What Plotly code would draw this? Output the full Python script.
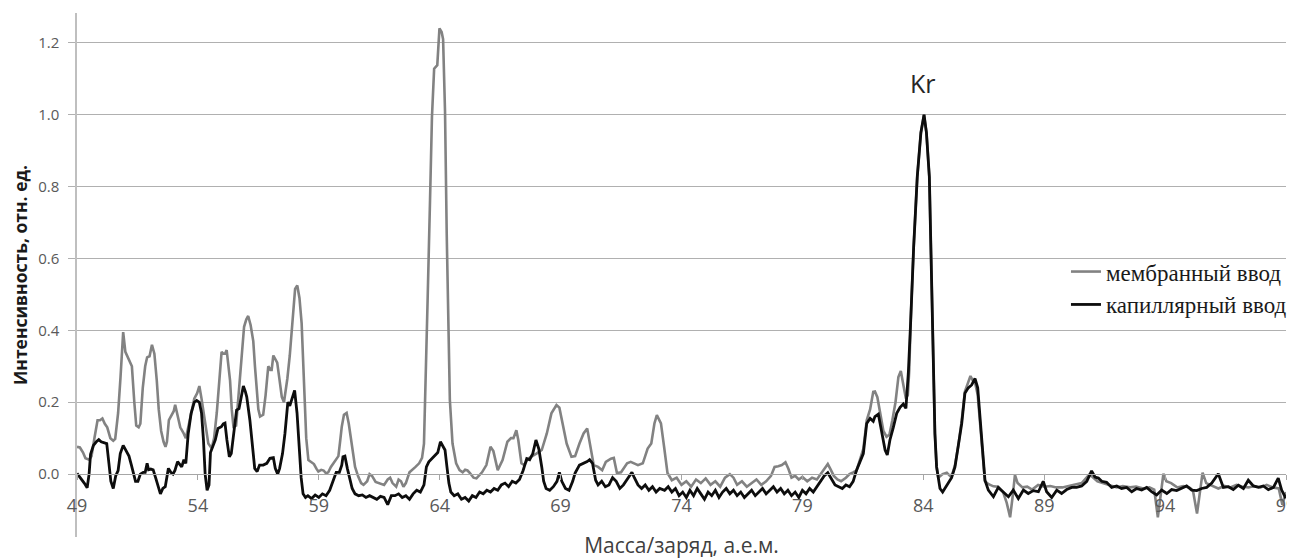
import plotly.graph_objects as go

# ---- data ----
mz_membrane = [
    49.0, 49.12, 49.25, 49.35, 49.5, 49.6, 49.72, 49.85, 49.95, 50.05, 50.15, 50.25, 50.38, 50.5, 50.58,
    50.7, 50.8, 50.91, 51.0, 51.1, 51.2, 51.27, 51.37, 51.45, 51.55, 51.62, 51.72, 51.82, 51.9, 52.0,
    52.1, 52.2, 52.3, 52.38, 52.48, 52.58, 52.66, 52.72, 52.8, 52.9, 53.0, 53.06, 53.15, 53.27, 53.4,
    53.5, 53.6, 53.72, 53.85, 53.97, 54.06, 54.15, 54.23, 54.33, 54.43, 54.57, 54.67, 54.78, 54.88, 54.98,
    55.05, 55.12, 55.19, 55.26, 55.33, 55.4, 55.47, 55.58, 55.66, 55.74, 55.82, 55.91, 56.0, 56.08, 56.18,
    56.29, 56.36, 56.43, 56.5, 56.57, 56.7, 56.8, 56.91, 57.0, 57.05, 57.12, 57.2, 57.28, 57.38, 57.47,
    57.56, 57.63, 57.7, 57.8, 57.88, 57.96, 58.02, 58.11, 58.2, 58.29, 58.35, 58.4, 58.48, 58.57, 58.7,
    58.8, 58.9, 58.98, 59.1, 59.2, 59.3, 59.39, 59.5, 59.6, 59.7, 59.81, 59.88, 59.95, 60.04, 60.15,
    60.24, 60.32, 60.42, 60.5, 60.63, 60.75, 60.85, 61.0, 61.1, 61.2, 61.35, 61.5, 61.7, 61.85, 61.95,
    62.05, 62.2, 62.3, 62.4, 62.5, 62.6, 62.75, 62.85, 63.0, 63.15, 63.27, 63.35, 63.42, 63.5, 63.6,
    63.68, 63.77, 63.9, 63.99, 64.08, 64.14, 64.22, 64.29, 64.35, 64.42, 64.53, 64.68, 64.82, 64.95, 65.05,
    65.15, 65.25, 65.4, 65.52, 65.62, 65.75, 65.93, 66.1, 66.22, 66.4, 66.6, 66.8, 66.95, 67.05, 67.17,
    67.25, 67.38, 67.5, 67.65, 67.8, 68.0, 68.22, 68.43, 68.62, 68.83, 68.95, 69.1, 69.25, 69.45, 69.6,
    69.78, 69.95, 70.1, 70.22, 70.37, 70.55, 70.72, 70.87, 71.08, 71.2, 71.33, 71.5, 71.75, 71.9, 72.05,
    72.2, 72.4, 72.6, 72.75, 72.88, 72.98, 73.1, 73.15, 73.28, 73.42, 73.6, 73.8, 74.0, 74.2, 74.4,
    74.6, 74.8, 75.0, 75.2, 75.4, 75.6, 75.8, 76.0, 76.15, 76.3, 76.5, 76.7, 76.9, 77.1, 77.3,
    77.5, 77.7, 77.85, 78.0, 78.15, 78.3, 78.42, 78.55, 78.7, 78.85, 79.0, 79.2, 79.4, 79.6, 79.8,
    79.95, 80.05, 80.15, 80.3, 80.45, 80.6, 80.8, 80.95, 81.1, 81.24, 81.38, 81.52, 81.66, 81.8, 81.93,
    82.0, 82.1, 82.2, 82.35, 82.48, 82.6, 82.72, 82.85, 82.97, 83.07, 83.17, 83.28, 83.36, 83.42, 83.48,
    83.6, 83.75, 83.9, 84.03, 84.13, 84.25, 84.35, 84.41, 84.48, 84.55, 84.62, 84.8, 84.97, 85.1, 85.2,
    85.31, 85.45, 85.59, 85.72, 85.86, 85.95, 86.05, 86.14, 86.25, 86.34, 86.46, 86.55, 86.7, 86.9, 87.1,
    87.3, 87.45, 87.59, 87.7, 87.79, 87.9, 88.1, 88.3, 88.5, 88.75, 89.0, 89.25, 89.5, 89.75, 90.0,
    90.3, 90.55, 90.85, 91.0, 91.2, 91.45, 91.7, 92.0, 92.25, 92.55, 92.8, 93.1, 93.35, 93.55, 93.7,
    93.8, 93.93, 94.05, 94.25, 94.5, 94.75, 95.0, 95.15, 95.32, 95.45, 95.55, 95.7, 95.95, 96.2, 96.45,
    96.7, 96.95, 97.2, 97.45, 97.7, 97.95, 98.2, 98.45, 98.7, 98.85, 99.0,
]
int_membrane = [
    0.076, 0.074, 0.06, 0.044, 0.040, 0.05, 0.10, 0.15, 0.15, 0.155, 0.14, 0.13, 0.10, 0.093, 0.098,
    0.17, 0.27, 0.395, 0.34, 0.325, 0.315, 0.30, 0.20, 0.135, 0.13, 0.14, 0.24, 0.30, 0.325, 0.328,
    0.36, 0.335, 0.26, 0.18, 0.12, 0.09, 0.076, 0.09, 0.15, 0.165, 0.175, 0.193, 0.165, 0.13, 0.115,
    0.10, 0.13, 0.17, 0.21, 0.225, 0.245, 0.21, 0.17, 0.12, 0.085, 0.072, 0.10, 0.17, 0.26, 0.34,
    0.335, 0.335, 0.345, 0.30, 0.26, 0.18, 0.132, 0.135, 0.20, 0.28, 0.35, 0.41, 0.43, 0.44, 0.415,
    0.37, 0.30, 0.224, 0.18, 0.16, 0.165, 0.22, 0.30, 0.29, 0.29, 0.33, 0.32, 0.31, 0.26, 0.215,
    0.20, 0.23, 0.266, 0.33, 0.40, 0.46, 0.515, 0.525, 0.49, 0.42, 0.30, 0.206, 0.10, 0.039, 0.033,
    0.028, 0.015, 0.007, 0.012, 0.01, 0.002, 0.005, 0.02, 0.03, 0.04, 0.05, 0.09, 0.132, 0.165, 0.17,
    0.14, 0.104, 0.06, 0.02, -0.007, -0.025, -0.03, -0.02, 0.0, -0.005, -0.022, -0.025, -0.03, -0.015, -0.01,
    -0.025, -0.035, -0.015, -0.02, -0.035, -0.025, 0.005, 0.012, 0.02, 0.03, 0.045, 0.085, 0.25, 0.484, 0.762,
    0.994, 1.128, 1.138, 1.24, 1.23, 1.21, 1.01, 0.67, 0.39, 0.206, 0.085, 0.03, 0.011, 0.005, 0.012,
    0.01, 0.003, -0.01, -0.012, -0.005, 0.005, 0.025, 0.076, 0.064, 0.011, 0.039, 0.09, 0.10, 0.10, 0.122,
    0.095, 0.03, 0.025, 0.043, 0.048, 0.057, 0.067, 0.113, 0.169, 0.192, 0.185, 0.132, 0.085, 0.048, 0.05,
    0.085, 0.113, 0.127, 0.076, 0.025, 0.02, 0.011, 0.034, 0.043, 0.045, 0.003, 0.005, 0.03, 0.034, 0.03,
    0.025, 0.03, 0.071, 0.085, 0.141, 0.164, 0.15, 0.141, 0.076, 0.003, -0.017, -0.01, -0.03, -0.02, -0.035,
    -0.015, -0.025, -0.012, -0.03, -0.02, -0.035, -0.01, 0.0, -0.01, -0.03, -0.02, -0.035, -0.025, -0.015, -0.03,
    -0.02, -0.005, 0.02, 0.022, 0.025, 0.033, 0.015, -0.01, -0.005, -0.015, -0.008, -0.02, -0.01, -0.015, 0.005,
    0.02, 0.028, 0.015, -0.005, -0.015, -0.02, -0.01, 0.0, 0.005, 0.01, 0.04, 0.07, 0.15, 0.18, 0.229,
    0.23, 0.214, 0.18, 0.12, 0.104, 0.11, 0.15, 0.2, 0.27, 0.287, 0.25, 0.21, 0.22, 0.29, 0.43,
    0.63, 0.827, 0.95, 1.0, 0.95, 0.827, 0.484, 0.317, 0.113, 0.02, -0.01, 0.0, 0.004, -0.005, 0.0,
    0.025, 0.08, 0.15, 0.23, 0.256, 0.273, 0.26, 0.255, 0.22, 0.14, 0.05, -0.02, -0.028, -0.034, -0.035,
    -0.05, -0.08, -0.12, -0.06, -0.002, -0.025, -0.037, -0.035, -0.043, -0.03, -0.035, -0.033, -0.037, -0.037, -0.033,
    -0.03, -0.025, -0.002, -0.008, -0.02, -0.025, -0.03, -0.037, -0.033, -0.037, -0.035, -0.04, -0.037, -0.043, -0.12,
    -0.06, 0.001, -0.02, -0.025, -0.037, -0.033, -0.037, -0.045, -0.11, -0.05, 0.004, -0.025, -0.033, -0.04, -0.033,
    -0.037, -0.03, -0.035, -0.037, -0.033, -0.037, -0.03, -0.037, -0.04, -0.085, -0.05,
]

mz_capillary = [
    49.0, 49.15, 49.3, 49.42, 49.5, 49.56, 49.68, 49.8, 49.9, 50.0, 50.1, 50.23, 50.32, 50.4, 50.5,
    50.6, 50.7, 50.79, 50.91, 51.03, 51.15, 51.25, 51.33, 51.42, 51.52, 51.62, 51.74, 51.82, 51.9, 51.96,
    52.05, 52.15, 52.25, 52.35, 52.45, 52.55, 52.65, 52.78, 52.88, 52.97, 53.05, 53.16, 53.25, 53.33, 53.42,
    53.5, 53.6, 53.72, 53.85, 53.95, 54.06, 54.15, 54.23, 54.3, 54.38, 54.46, 54.52, 54.62, 54.72, 54.83,
    54.97, 55.05, 55.12, 55.2, 55.3, 55.38, 55.52, 55.6, 55.7, 55.8, 55.88, 55.96, 56.02, 56.15, 56.25,
    56.35, 56.45, 56.55, 56.7, 56.85, 56.98, 57.12, 57.2, 57.3, 57.38, 57.5, 57.6, 57.72, 57.8, 57.92,
    58.0, 58.1, 58.2, 58.27, 58.35, 58.45, 58.55, 58.7, 58.85, 59.0, 59.15, 59.3, 59.45, 59.6, 59.72,
    59.85, 59.95, 60.0, 60.08, 60.18, 60.28, 60.38, 60.5, 60.65, 60.8, 60.95, 61.1, 61.25, 61.4, 61.55,
    61.7, 61.85, 62.0, 62.15, 62.3, 62.45, 62.6, 62.75, 62.9, 63.05, 63.2, 63.35, 63.45, 63.55, 63.68,
    63.8, 63.92, 64.03, 64.14, 64.22, 64.3, 64.38, 64.46, 64.6, 64.75, 64.9, 65.05, 65.2, 65.35, 65.5,
    65.65, 65.8, 65.95, 66.1, 66.25, 66.4, 66.55, 66.7, 66.85, 67.0, 67.15, 67.3, 67.45, 67.6, 67.72,
    67.85, 67.98, 68.1, 68.22, 68.3, 68.4, 68.55, 68.7, 68.85, 68.95, 69.05, 69.2, 69.35, 69.5, 69.6,
    69.78, 69.98, 70.1, 70.2, 70.32, 70.45, 70.55, 70.7, 70.85, 71.0, 71.15, 71.3, 71.45, 71.6, 71.78,
    71.95, 72.05, 72.2, 72.35, 72.5, 72.65, 72.8, 72.95, 73.1, 73.3, 73.45, 73.6, 73.75, 73.9, 74.05,
    74.2, 74.35, 74.5, 74.65, 74.8, 74.95, 75.1, 75.25, 75.4, 75.55, 75.7, 75.85, 76.0, 76.15, 76.3,
    76.45, 76.6, 76.75, 76.9, 77.05, 77.2, 77.35, 77.5, 77.65, 77.8, 77.95, 78.1, 78.25, 78.4, 78.55,
    78.7, 78.85, 79.0, 79.15, 79.3, 79.45, 79.6, 79.75, 79.9, 80.05, 80.2, 80.35, 80.5, 80.65, 80.8,
    80.95, 81.1, 81.24, 81.38, 81.52, 81.66, 81.8, 81.93, 82.0, 82.14, 82.28, 82.42, 82.51, 82.62, 82.76,
    82.9, 83.04, 83.17, 83.28, 83.38, 83.48, 83.6, 83.75, 83.9, 84.03, 84.13, 84.25, 84.35, 84.41, 84.48,
    84.55, 84.62, 84.69, 84.8, 84.97, 85.17, 85.31, 85.45, 85.59, 85.72, 85.86, 86.0, 86.14, 86.25, 86.34,
    86.46, 86.55, 86.69, 86.9, 87.1, 87.31, 87.52, 87.72, 87.93, 88.14, 88.34, 88.55, 88.76, 88.96, 89.1,
    89.31, 89.52, 89.72, 89.93, 90.14, 90.34, 90.55, 90.76, 90.96, 91.1, 91.24, 91.38, 91.58, 91.79, 92.0,
    92.2, 92.41, 92.62, 92.82, 93.03, 93.24, 93.44, 93.65, 93.86, 94.07, 94.27, 94.48, 94.69, 94.89, 95.1,
    95.31, 95.51, 95.72, 95.93, 96.2, 96.41, 96.62, 96.82, 97.03, 97.24, 97.44, 97.65, 97.86, 98.06, 98.27,
    98.48, 98.68, 98.82, 98.96, 99.0,
]
int_capillary = [
    0.002, -0.01, -0.025, -0.038, 0.0, 0.055, 0.08, 0.09, 0.096, 0.09, 0.087, 0.085, 0.03, -0.02, -0.04,
    -0.005, 0.01, 0.057, 0.08, 0.065, 0.05, 0.025, 0.0, -0.02, -0.02, 0.0, 0.005, 0.005, 0.03, 0.012,
    0.014, 0.012, -0.01, -0.035, -0.055, -0.04, -0.035, 0.016, 0.005, 0.0, 0.01, 0.035, 0.025, 0.02, 0.04,
    0.03, 0.113, 0.169, 0.2, 0.205, 0.2, 0.17, 0.095, 0.0, -0.045, -0.03, 0.06, 0.076, 0.095, 0.127,
    0.132, 0.14, 0.142, 0.095, 0.048, 0.057, 0.132, 0.178, 0.182, 0.22, 0.245, 0.23, 0.215, 0.15, 0.076,
    0.016, 0.007, 0.025, 0.025, 0.03, 0.044, 0.046, 0.016, 0.0, 0.016, 0.057, 0.113, 0.2, 0.19, 0.22,
    0.233, 0.17, 0.057, -0.01, -0.055, -0.065, -0.06, -0.068, -0.058, -0.065, -0.055, -0.06, -0.045, -0.02, 0.005,
    0.005, 0.025, 0.048, 0.05, 0.016, -0.01, -0.04, -0.055, -0.06, -0.058, -0.065, -0.06, -0.065, -0.07, -0.062,
    -0.065, -0.085, -0.06, -0.06, -0.055, -0.065, -0.06, -0.07, -0.055, -0.045, -0.05, -0.03, 0.02, 0.034, 0.043,
    0.05, 0.06, 0.09, 0.075, 0.067, 0.02, -0.025, -0.05, -0.06, -0.055, -0.07, -0.065, -0.075, -0.06, -0.065,
    -0.05, -0.055, -0.045, -0.05, -0.04, -0.045, -0.03, -0.025, -0.035, -0.02, -0.025, -0.015, 0.01, 0.043, 0.04,
    0.057, 0.095, 0.07, 0.02, -0.02, -0.04, -0.045, -0.035, -0.02, 0.005, -0.02, -0.04, -0.045, -0.02, 0.003,
    0.025, 0.03, 0.035, 0.04, 0.03, -0.017, -0.03, -0.02, -0.035, -0.03, -0.01, -0.02, -0.04, -0.03, -0.01,
    0.005, -0.01, -0.03, -0.04, -0.03, -0.045, -0.035, -0.05, -0.04, -0.045, -0.035, -0.05, -0.04, -0.06, -0.05,
    -0.065, -0.045, -0.06, -0.04, -0.055, -0.07, -0.05, -0.06, -0.045, -0.065, -0.05, -0.04, -0.055, -0.045, -0.06,
    -0.05, -0.065, -0.055, -0.045, -0.06, -0.05, -0.04, -0.055, -0.045, -0.035, -0.05, -0.04, -0.055, -0.045, -0.06,
    -0.05, -0.065, -0.045, -0.055, -0.04, -0.05, -0.035, -0.02, -0.005, 0.004, -0.015, -0.03, -0.035, -0.04, -0.03,
    -0.035, -0.02, 0.011, 0.034, 0.057, 0.141, 0.155, 0.147, 0.16, 0.167, 0.113, 0.067, 0.053, 0.095, 0.13,
    0.169, 0.186, 0.195, 0.183, 0.28, 0.428, 0.63, 0.827, 0.95, 1.0, 0.95, 0.827, 0.484, 0.317, 0.113,
    0.02, -0.017, -0.04, -0.05, -0.03, -0.01, 0.02, 0.076, 0.141, 0.225, 0.24, 0.248, 0.266, 0.24, 0.16,
    0.067, -0.017, -0.0445, -0.063, -0.037, -0.049, -0.063, -0.0445, -0.068, -0.0445, -0.054, -0.046, -0.049, -0.020, -0.049,
    -0.065, -0.0445, -0.054, -0.043, -0.037, -0.037, -0.033, -0.020, 0.009, -0.008, -0.011, -0.020, -0.023, -0.037, -0.033,
    -0.040, -0.037, -0.049, -0.040, -0.0445, -0.037, -0.049, -0.058, -0.0445, -0.054, -0.043, -0.046, -0.040, -0.033, -0.0445,
    -0.046, -0.040, -0.037, -0.025, 0.001, -0.037, -0.035, -0.043, -0.031, -0.040, -0.017, -0.033, -0.037, -0.033, -0.043,
    -0.037, -0.011, -0.0445, -0.063, -0.06,
]

x_ticks = [49, 54, 59, 64, 69, 74, 79, 84, 89, 94, 99]
y_ticks = [0.0, 0.2, 0.4, 0.6, 0.8, 1.0, 1.2]
series_names = ["мембранный ввод", "капиллярный ввод"]
x_title = "Масса/заряд, а.е.м."
y_title = "Интенсивность, отн. ед."
peak_label = "Kr"
peak_pos = (84.0, 1.088)

Y_MIN, Y_MAX = -0.175, 1.283

fig = go.Figure()
fig.add_trace(go.Scatter(
    x=mz_membrane, y=int_membrane, mode="lines", name=series_names[0],
    legendgroup="a", line=dict(color="#828282", width=2.6),
))
fig.add_trace(go.Scatter(
    x=mz_capillary, y=int_capillary, mode="lines", name=series_names[1],
    legendgroup="b", line=dict(color="#0d0d0d", width=2.8),
))

fig.add_annotation(
    x=peak_pos[0], y=peak_pos[1], text=peak_label, showarrow=False,
    font=dict(family="Open Sans", size=25, color="#262626"),
)

# the page body adds an 8px offset, so the figure is sized to fill the remaining window
fig.update_layout(
    width=1287, height=551,
    margin=dict(l=69, r=9, t=5, b=22, autoexpand=False),
    paper_bgcolor="white", plot_bgcolor="white",
    font=dict(family="Open Sans", color="#595959"),
    showlegend=True,
    legend=dict(
        x=0.818, y=0.475, xanchor="left", yanchor="middle",
        font=dict(family="Liberation Serif", size=23, color="#1a1a1a"),
        bgcolor="rgba(0,0,0,0)", tracegroupgap=0, itemwidth=30,
    ),
    xaxis=dict(
        range=[49, 99], tickvals=x_ticks, ticktext=[str(t) for t in x_ticks],
        anchor="free", position=(0 - Y_MIN) / (Y_MAX - Y_MIN),
        showgrid=False, zeroline=False, automargin=False,
        showline=True, linecolor="#a6a6a6", linewidth=1.3,
        ticks="outside", ticklen=5, tickcolor="#a6a6a6", tickwidth=1.3,
        tickfont=dict(size=18, color="#595959"), ticklabelstandoff=10,
        ticklabeloverflow="allow",
        title=dict(text=x_title, font=dict(size=21, color="#404040"), standoff=23),
    ),
    yaxis=dict(
        range=[Y_MIN, Y_MAX], tickvals=y_ticks, ticktext=[f"{t:.1f}" for t in y_ticks],
        showgrid=True, gridcolor="#b0b0b0", gridwidth=1.3, zeroline=False, automargin=False,
        showline=True, linecolor="#bfbfbf", linewidth=1.5,
        ticks="outside", ticklen=7, tickcolor="#b0b0b0", tickwidth=1.3,
        tickfont=dict(size=15, color="#595959"), ticklabelstandoff=6,
        title=dict(text="<b>" + y_title + "</b>", font=dict(size=17.5, color="#1a1a1a"), standoff=10),
    ),
)

fig.write_html("out.html")
